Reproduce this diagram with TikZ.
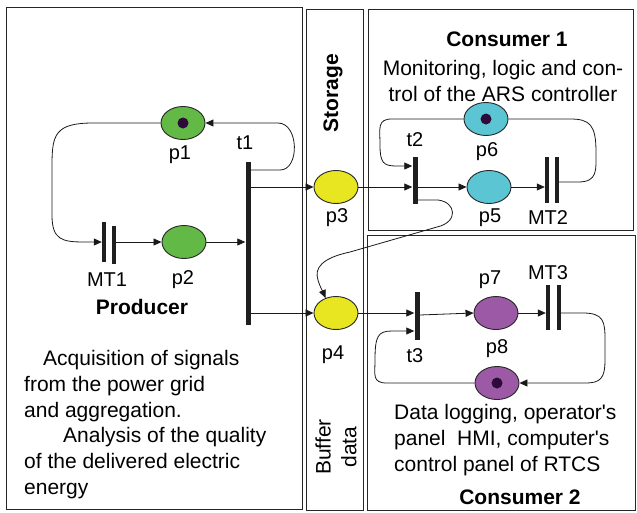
\documentclass[tikz,border=0pt]{standalone}
\usepackage{fontspec}
\setmainfont{Liberation Sans}
\usetikzlibrary{arrows.meta,shapes.geometric,calc}
\definecolor{pgreen}{RGB}{99,185,70}
\definecolor{pyellow}{RGB}{232,230,32}
\definecolor{pcyan}{RGB}{91,197,212}
\definecolor{ppurple}{RGB}{155,89,166}
\definecolor{ptoken}{RGB}{46,10,58}
\tikzset{
  boxline/.style={draw=black!85,line width=1pt},
  place/.style={ellipse,draw=black!85,line width=0.9pt,minimum width=44pt,minimum height=33pt,inner sep=0pt},
  tok/.style={circle,fill=ptoken,minimum size=11pt,inner sep=0pt},
  trans/.style={rectangle,fill=black!88,inner sep=0pt,minimum width=5pt},
  mbar/.style={rectangle,fill=black!88,inner sep=0pt,minimum width=4pt},
  arc/.style={line width=0.8pt,draw=black!90},
  arr/.style={arc,-{Triangle[length=8pt,width=7pt]}},
  lbl/.style={font=\fontsize{20}{24}\selectfont,inner sep=0pt},
  txt/.style={font=\fontsize{21}{25.8}\selectfont,inner sep=0pt},
  ttl/.style={font=\fontsize{21}{25.8}\selectfont\bfseries,inner sep=0pt}
}
\begin{document}
\begin{tikzpicture}[x=1pt,y=-1pt]
\useasboundingbox (0,0) rectangle (637,512);
% boxes
\draw[boxline] (6,7) rectangle (302,509);
\draw[boxline] (306,9) rectangle (363,510);
\draw[boxline] (368,9) rectangle (633,230);
\draw[boxline] (367,235) rectangle (635,510);

% places
\node[place,fill=pgreen] (p1) at (183,123) {};
\node[tok] (k1) at (p1) {};
\node[place,fill=pgreen] (p2) at (184,242) {};
\node[place,fill=pyellow] (p3) at (336,187) {};
\node[place,fill=pyellow] (p4) at (336,313) {};
\node[place,fill=pcyan] (p5) at (489,187) {};
\node[place,fill=pcyan] (p6) at (486,119) {};
\node[tok] (k6) at (p6) {};
\node[place,fill=ppurple] (p7) at (496,313) {};
\node[place,fill=ppurple] (p8) at (497,383) {};
\node[tok] (k8) at (p8) {};

% transitions
\node[trans,minimum height=163pt] (t1) at (248,243.5) {};
\node[trans,minimum height=47pt] (t2) at (415,180.5) {};
\node[trans,minimum height=48pt] (t3) at (417,316) {};
\node[mbar,minimum height=40pt] (MT1a) at (104,242) {};
\node[mbar,minimum height=38pt] (MT1b) at (114,245) {};
\node[mbar,minimum height=46pt] (MT2a) at (547,180) {};
\node[mbar,minimum height=46pt] (MT2b) at (557,180) {};
\node[mbar,minimum height=45pt] (MT3a) at (548,307.5) {};
\node[mbar,minimum height=45pt] (MT3b) at (559,307.5) {};

% labels
\node[lbl] (lp1) at (180,155) {p1};
\node[lbl] (lt1) at (245,143) {t1};
\node[lbl] (lmt1) at (107,280) {MT1};
\node[lbl] (lp2) at (183,280) {p2};
\node[lbl] (lp3) at (337,218) {p3};
\node[lbl] (lp4) at (333,355) {p4};
\node[lbl] (lt2) at (415,140) {t2};
\node[lbl] (lp6) at (487,152) {p6};
\node[lbl] (lp5) at (490,218) {p5};
\node[lbl] (lmt2) at (548,218) {MT2};
\node[lbl] (lp7) at (490,280) {p7};
\node[lbl] (lmt3) at (548,273) {MT3};
\node[lbl] (lt3) at (415,356) {t3};
\node[lbl] (lp8) at (497,349) {p8};

% texts
\node[ttl] (prod) at (142,307) {Producer};
\node[txt,align=left,anchor=north west] (ptext) at (24,350)
  {\hspace*{19pt}Acquisition of signals\\from the power grid\\and aggregation.\\\hspace*{39pt}Analysis of the quality\\of the delivered electric\\energy};
\node[ttl,rotate=90] (stor) at (333,93) {Storage};
\node[txt,rotate=90,align=center] (buf) at (336,447) {Buffer\\data};
\node[ttl] (c1) at (507,39) {Consumer 1};
\node[txt,align=center] (c1t) at (503,81) {Monitoring, logic and con-\\trol of the ARS controller};
\node[txt,align=left,anchor=north west] (c2t) at (394,404)
  {Data logging, operator\textquotesingle s\\panel\ \ HMI, computer\textquotesingle s\\control panel of RTCS};
\node[ttl] (c2) at (520,497) {Consumer 2};

% connectors: producer
\draw[arr] (t1.east |- 0,170) -- (280,170) .. controls (300,170) and (299,123) .. (278,123) -- (p1.east);
\draw[arr] (p1.west) -- (93,123) .. controls (55,123) and (52,135) .. (52,165) -- (52,215) .. controls (52,240) and (62,242) .. (85,242) -- (MT1a.west |- p2);
\draw[arr] (MT1b.east |- p2) -- (p2.west);
\draw[arr] (p2.east) -- (p2 -| t1.west);
\draw[arr] (t1.east |- p3) -- (p3.west);
\draw[arr] (t1.east |- p4) -- (p4.west);

% consumer 1
\draw[arr] (p3.east) -- (p3 -| t2.west);
\draw[arr] (p6.west) -- (392,119) .. controls (377,119) and (380,128) .. (380,145) .. controls (380,162) and (383,166) .. (396,166) -- (t2.west |- 0,166);
\draw[arr] (t2.east |- p5) -- (p5.west);
\draw[arr] (p5.east) -- (p5 -| MT2a.west);
\draw[arc] (MT2b.east |- 0,182) -- (578,182) .. controls (598,182) and (596,170) .. (596,152) .. controls (596,125) and (590,119) .. (570,119) -- (p6.east);
\draw[arr] (t2.east |- 0,200) -- (438,200) .. controls (456,202) and (459,222) .. (437,227) -- (350,252) .. controls (322,258) and (314,268) .. (318,280) .. controls (320,287) and (323,292) .. (p4.125);

% consumer 2
\draw[arr] (p4.east) -- (p4 -| t3.west);
\draw[arr] (t3.east |- 0,315) -- (p7.west);
\draw[arr] (p7.east) -- (p7 -| MT3a.west);
\draw[arr] (MT3b.east |- p7) -- (583,313) .. controls (604,313) and (605,322) .. (605,340) -- (605,360) .. controls (605,379) and (600,383) .. (585,383) -- (p8.east);
\draw[arr] (p8.west) -- (387,383) .. controls (372,383) and (375,375) .. (375,360) .. controls (375,336) and (378,331) .. (392,331) -- (t3.west |- 0,331);
\end{tikzpicture}
\end{document}
